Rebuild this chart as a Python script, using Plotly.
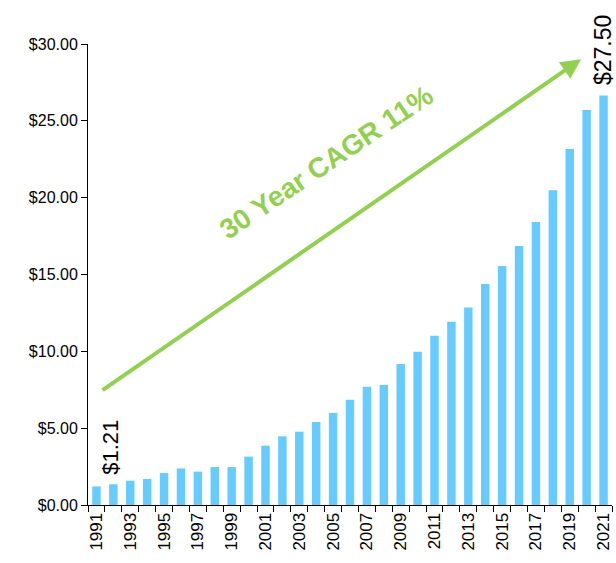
import plotly.graph_objects as go

years = list(range(1991, 2022))
values = [1.21, 1.35, 1.58, 1.69, 2.08, 2.38, 2.17, 2.47, 2.47, 3.15,
          3.86, 4.47, 4.77, 5.40, 5.99, 6.85, 7.70, 7.81, 9.17, 9.98,
          11.02, 11.93, 12.86, 14.38, 15.55, 16.85, 18.41, 20.49, 23.16, 25.70,
          26.65]
tick_years = list(range(1991, 2022, 2))
y_ticks = [0, 5, 10, 15, 20, 25, 30]
first_label = "$1.21"
last_label = "$27.50"
cagr_text = "30 Year CAGR 11%"

GREEN = "#92D050"
BLUE = "#66CCFF"
FONT = "Liberation Sans"

fig = go.Figure(go.Bar(x=years, y=values, marker=dict(color=BLUE, line=dict(width=0)),
                       width=0.5))

fig.update_layout(
    width=616, height=563,
    margin=dict(l=88, r=4, t=44, b=58),
    plot_bgcolor="white", paper_bgcolor="white",
    showlegend=False,
    font=dict(family=FONT, size=16, color="#000000"),
    xaxis=dict(
        type="linear", range=[1990.5, 2021.5],
        tickmode="array", tickvals=tick_years, ticktext=[str(y) for y in tick_years],
        tickangle=-90, ticks="", ticklen=6, showgrid=False, zeroline=False,
        showline=True, linecolor="#000000", linewidth=1, automargin=False,
        tickfont=dict(family=FONT, size=17),
        minor=dict(ticks="outside", tick0=1990.5, dtick=1, ticklen=6,
                   tickcolor="#000000", tickwidth=1, showgrid=False),
    ),
    yaxis=dict(
        range=[0, 30], tickmode="array", tickvals=y_ticks, automargin=False,
        tickformat="$.2f", ticks="outside", ticklen=6, tickcolor="#000000",
        showgrid=False, zeroline=False, showline=True, linecolor="#000000", linewidth=1,
        tickfont=dict(family=FONT, size=16),
    ),
)

# CAGR arrow (decorative)
fig.add_annotation(
    xref="paper", yref="paper", x=0.941, y=0.967,
    axref="pixel", ayref="pixel", ax=-480, ay=332,
    showarrow=True, arrowhead=2, arrowsize=1, arrowwidth=4, arrowcolor=GREEN,
    text="",
)
fig.add_annotation(
    xref="paper", yref="paper", x=0.454, y=0.744,
    xanchor="center", yanchor="middle",
    text=f"<b>{cagr_text}</b>", showarrow=False, textangle=-34,
    font=dict(family=FONT, size=28, color=GREEN),
)

# Data labels
fig.add_annotation(
    x=years[0] + 0.85, y=values[0], yshift=10, yanchor="bottom",
    text=first_label, showarrow=False, textangle=-90,
    font=dict(family=FONT, size=22, color="#000000"),
)
fig.add_annotation(
    x=years[-1], y=values[-1], yshift=8, yanchor="bottom",
    text=last_label, showarrow=False, textangle=-90,
    font=dict(family=FONT, size=23, color="#000000"),
)

fig.write_html(
    "out.html",
    config={"displayModeBar": False},
    post_script="document.body.style.margin='0';document.body.style.overflow='hidden';"
                "document.documentElement.style.overflow='hidden';",
)
